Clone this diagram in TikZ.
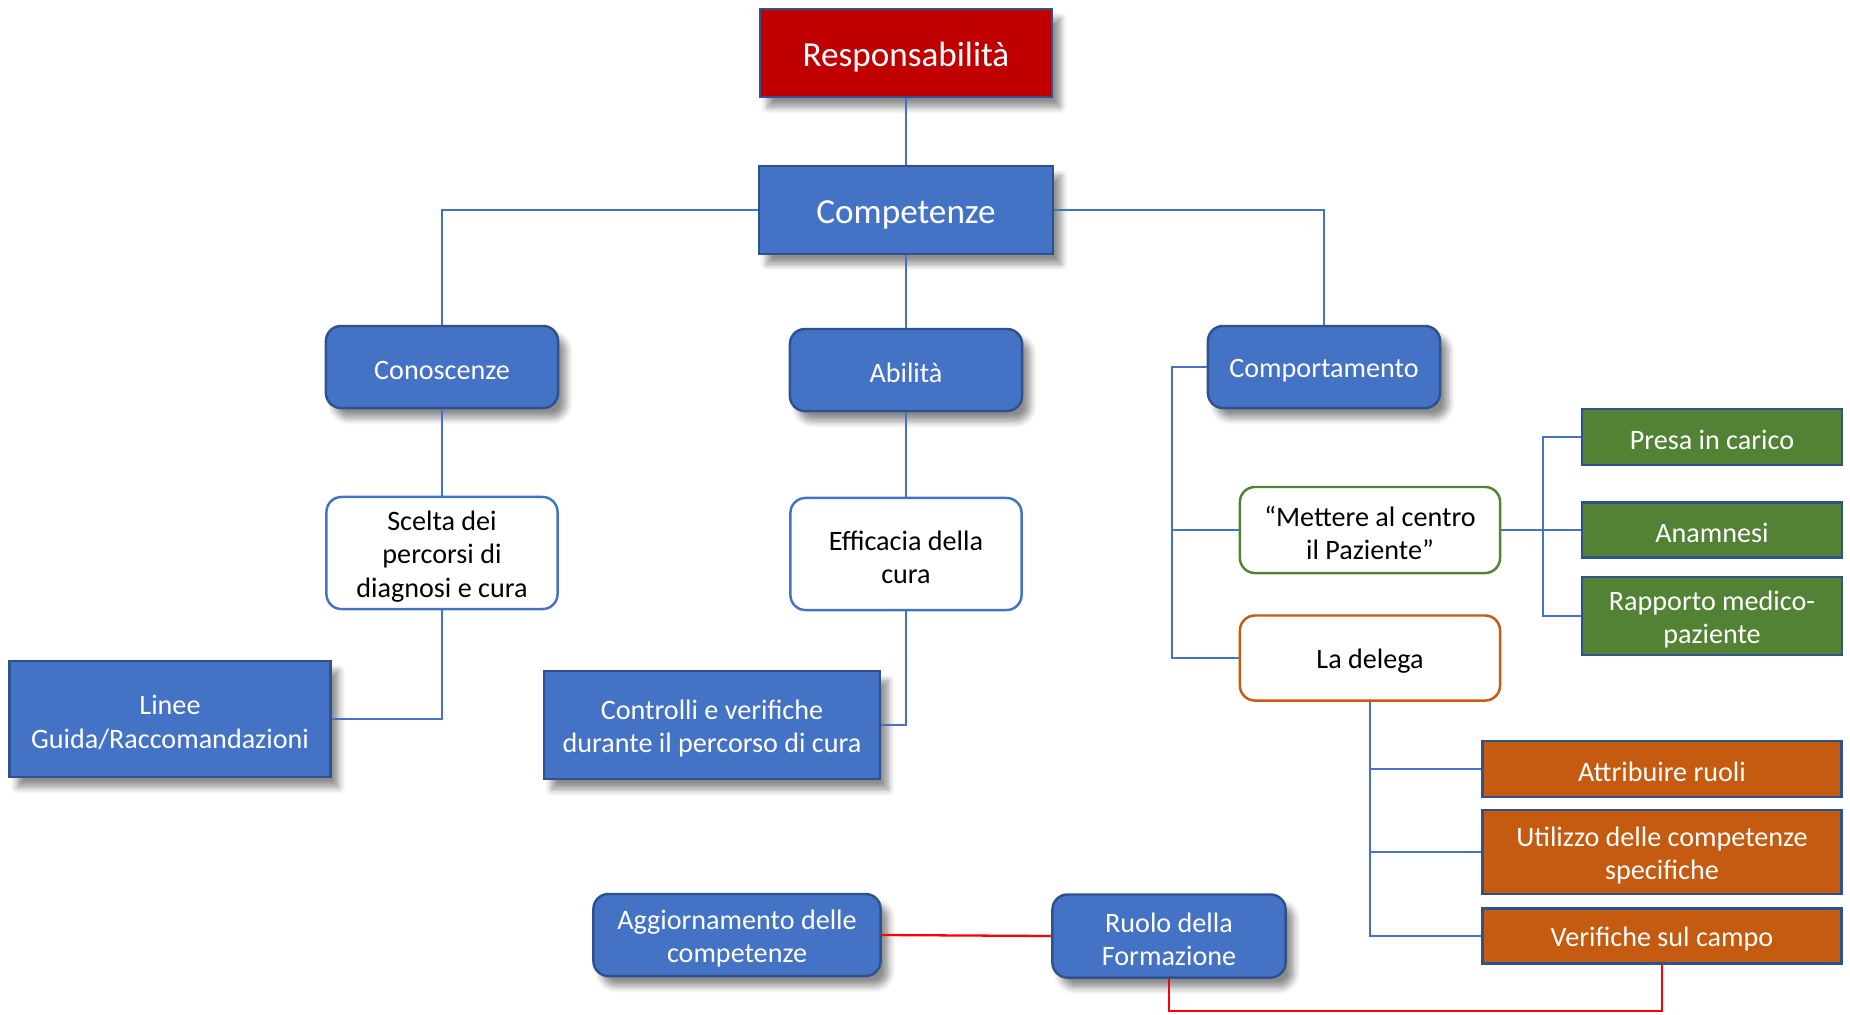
\documentclass[tikz,border=0pt]{standalone}
\usepackage{fontspec}
\setmainfont{Carlito}
\usepackage{xcolor}
\usetikzlibrary{shadows.blur}
\definecolor{cBlue}{HTML}{4472C4}
\definecolor{cBlueDk}{HTML}{2F528F}
\definecolor{cRed}{HTML}{C00000}
\definecolor{cGreen}{HTML}{548235}
\definecolor{cOrange}{HTML}{C55A11}
\definecolor{cRedLine}{HTML}{FF0000}
\newcommand{\fntTop}{\fontsize{10pt}{12pt}\selectfont}
\newcommand{\fntBox}{\fontsize{8pt}{9.5pt}\selectfont}
\newcommand{\topstrut}{\rule{0pt}{0.93em}}

\begin{document}
\begin{tikzpicture}[x=0.01cm, y=-0.01cm,
  shd/.style={blur shadow={shadow xshift=0.8mm, shadow yshift=-1mm, shadow opacity=45, shadow blur steps=6}},
  lowtxt/.style={execute at begin node={\topstrut}, inner ysep=0.5pt},
  head/.style={draw=cBlueDk, line width=0.7pt, text=white, font=\fntTop, align=center, lowtxt, shd},
  blk/.style={draw=cBlueDk, line width=0.7pt, fill=cBlue, text=white, font=\fntBox, align=center, lowtxt, shd},
  rblk/.style={blk, rounded corners=0.15cm},
  wblk/.style={draw=cBlue, line width=0.7pt, fill=white, font=\fntBox, align=center, lowtxt, rounded corners=0.15cm},
  gblk/.style={draw=cBlueDk, line width=0.7pt, fill=cGreen, text=white, font=\fntBox, align=center, lowtxt},
  oblk/.style={draw=cBlueDk, line width=0.7pt, fill=cOrange, text=white, font=\fntBox, align=center, lowtxt},
  link/.style={draw=cBlue, line width=0.4pt},
  rlink/.style={draw=cRedLine, line width=0.65pt}]
\useasboundingbox (0,0) rectangle (1850,1014);
\node[head, fill=cRed, minimum width=2.92cm, minimum height=0.88cm] (resp) at (906,53) {Responsabilità};
\node[head, fill=cBlue, minimum width=2.94cm, minimum height=0.88cm] (comp) at (906,210) {Competenze};
\node[rblk, minimum width=2.32cm, minimum height=0.82cm] (cono) at (442,367) {Conoscenze};
\node[rblk, minimum width=2.32cm, minimum height=0.82cm] (abil) at (906,370) {Abilità};
\node[rblk, minimum width=2.32cm, minimum height=0.82cm] (comport) at (1324,367) {Comportamento};
\node[wblk, minimum width=2.31cm, minimum height=1.12cm] (scelta) at (442,553) {\topstrut Scelta dei\\percorsi di\\diagnosi e cura};
\node[wblk, minimum width=2.31cm, minimum height=1.12cm] (effic) at (906,554) {\topstrut Efficacia della\\cura};
\node[blk, minimum width=3.21cm, minimum height=1.16cm] (linee) at (170,719) {\topstrut Linee\\Guida/Raccomandazioni};
\node[blk, minimum width=3.36cm, minimum height=1.08cm] (contr) at (712,725) {\topstrut Controlli e verifiche\\durante il percorso di cura};
\node[wblk, draw=cGreen, minimum width=2.6cm, minimum height=0.86cm] (mett) at (1370,530) {\topstrut “Mettere al centro\\il Paziente”};
\node[wblk, draw=cOrange, minimum width=2.6cm, minimum height=0.85cm] (delega) at (1370,658) {La delega};
\node[gblk, minimum width=2.6cm, minimum height=0.56cm] (presa) at (1712,437) {Presa in carico};
\node[gblk, minimum width=2.6cm, minimum height=0.55cm] (anam) at (1712,530) {Anamnesi};
\node[gblk, minimum width=2.6cm, minimum height=0.78cm] (rapp) at (1712,616) {\topstrut Rapporto medico-\\paziente};
\node[oblk, minimum width=3.59cm, minimum height=0.56cm] (attr) at (1662,769) {Attribuire ruoli};
\node[oblk, minimum width=3.59cm, minimum height=0.84cm] (util) at (1662,852) {\topstrut Utilizzo delle competenze\\specifiche};
\node[oblk, minimum width=3.59cm, minimum height=0.55cm] (verif) at (1662,936) {Verifiche sul campo};
\node[rblk, minimum width=2.87cm, minimum height=0.82cm] (aggior) at (737,935) {\topstrut Aggiornamento delle\\competenze};
\node[rblk, minimum width=2.33cm, minimum height=0.83cm] (ruolo) at (1169,936) {\topstrut Ruolo della\\Formazione};
\coordinate (cbus) at (1172,367);
\coordinate (gbus) at (1543,530);
\coordinate (rbus) at (1169,1011);
\draw[link] (resp) -- (comp);
\draw[link] (comp.west) -| (cono.north);
\draw[link] (comp) -- (abil);
\draw[link] (comp.east) -| (comport.north);
\draw[link] (cono) -- (scelta);
\draw[link] (abil) -- (effic);
\draw[link] (scelta.south) |- (linee.east);
\draw[link] (effic.south) |- (contr.east);
\draw[link] (comport.west) -- (cbus) |- (mett.west);
\draw[link] (cbus) |- (delega.west);
\draw[link] (mett.east) -- (gbus);
\foreach \n in {presa,anam,rapp}{\draw[link] (gbus) |- (\n.west);}
\foreach \n in {attr,util,verif}{\draw[link] (delega.south) |- (\n.west);}
\draw[rlink] (aggior.east) -- (ruolo.west);
\draw[rlink] (ruolo.south) -- (rbus) -| (verif.south);
\end{tikzpicture}
\end{document}
